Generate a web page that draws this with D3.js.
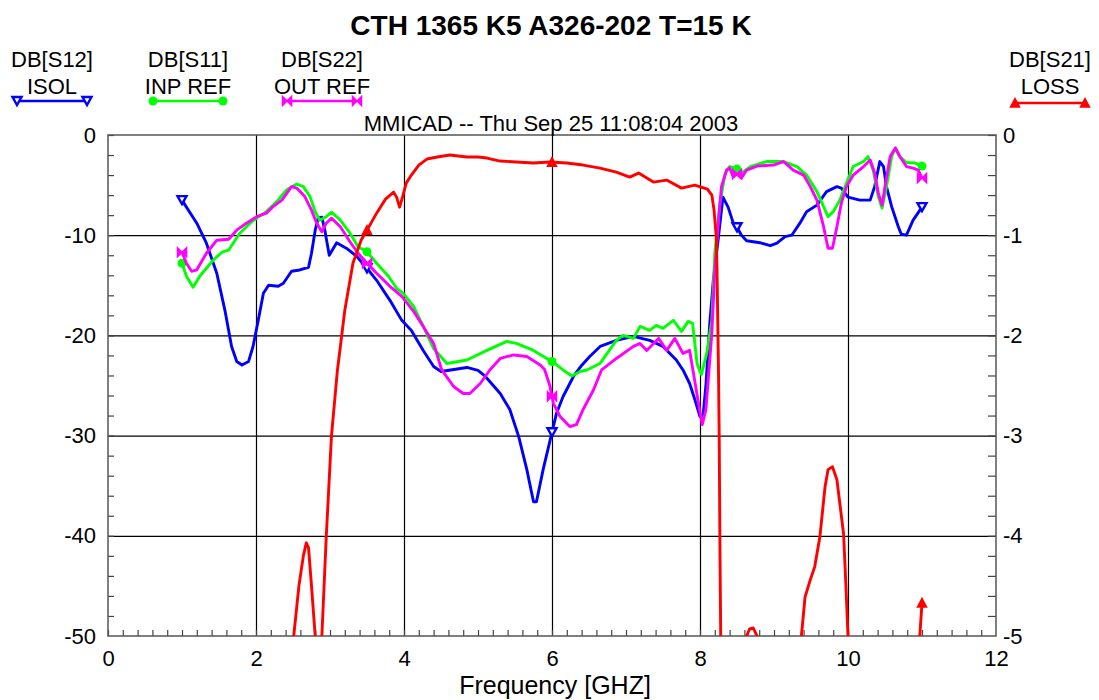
<!DOCTYPE html>
<html><head><meta charset="utf-8">
<script src="https://cdn.jsdelivr.net/npm/d3@7/dist/d3.min.js"></script>
<style>
html,body{margin:0;padding:0;background:#fff;}
svg text{font-family:"Liberation Sans",Arial,sans-serif;}
</style></head>
<body><svg id="c" width="1099" height="700"></svg>
<script>
// ---- DATA ----
const titleText = "CTH 1365 K5 A326-202 T=15 K";
const subtitleText = "MMICAD -- Thu Sep 25 11:08:04 2003";
const xLabel = "Frequency [GHZ]";
const xTicks = [0, 2, 4, 6, 8, 10, 12];
const yLeftTicks = [0, -10, -20, -30, -40, -50];
const yRightTicks = [0, -1, -2, -3, -4, -5];
const markerFreqs = [1, 3.5, 6, 8.5, 11];

// DB[S12] ISOL (left axis, dB)
const s12 = [[1.0,-6.5],[1.06,-7.2],[1.20,-8.8],[1.33,-10.8],[1.47,-13.8],[1.58,-17.5],[1.67,-21.1],[1.74,-22.6],[1.81,-22.95],[1.90,-22.6],[1.96,-21.1],[2.03,-18.5],[2.10,-15.8],[2.17,-15.0],[2.30,-15.1],[2.37,-14.8],[2.48,-13.6],[2.57,-13.5],[2.71,-13.2],[2.75,-11.8],[2.80,-9.5],[2.84,-8.3],[2.89,-8.2],[2.93,-9.5],[2.99,-12.0],[3.09,-10.75],[3.22,-11.3],[3.36,-12.1],[3.50,-13.3],[3.63,-14.5],[3.81,-16.5],[3.97,-18.5],[4.10,-19.5],[4.26,-21.5],[4.40,-23.1],[4.50,-23.6],[4.85,-23.2],[5.0,-23.5],[5.10,-24.1],[5.30,-25.8],[5.43,-27.4],[5.55,-30.1],[5.66,-33.4],[5.75,-36.6],[5.79,-36.6],[5.88,-33.4],[5.97,-30.6],[6.06,-27.8],[6.15,-26.1],[6.29,-24.1],[6.40,-23.0],[6.51,-22.1],[6.65,-21.1],[6.87,-20.5],[7.10,-20.1],[7.32,-20.5],[7.50,-21.1],[7.68,-22.45],[7.77,-23.45],[7.86,-24.8],[7.93,-26.4],[8.0,-28.1],[8.04,-28.1],[8.08,-25],[8.13,-19],[8.18,-14.5],[8.25,-10.15],[8.31,-6.2],[8.38,-7.2],[8.45,-8.8],[8.50,-9.2],[8.56,-10.0],[8.63,-10.55],[8.81,-10.75],[8.95,-11.05],[9.04,-10.8],[9.15,-10.15],[9.24,-10.0],[9.35,-8.8],[9.44,-7.65],[9.58,-7.0],[9.71,-5.65],[9.85,-5.15],[9.91,-5.3],[10.0,-6.2],[10.16,-6.5],[10.30,-6.5],[10.36,-5.15],[10.43,-2.65],[10.48,-3.15],[10.52,-5.15],[10.59,-7.15],[10.68,-9.15],[10.72,-9.9],[10.79,-10.0],[10.88,-8.5],[11.0,-7.2]];

// DB[S11] INP REF (left axis, dB)
const s11 = [[1.0,-12.8],[1.06,-14.1],[1.15,-15.2],[1.24,-14.1],[1.42,-12.5],[1.54,-11.7],[1.63,-11.5],[1.78,-9.8],[1.92,-8.8],[2.01,-8.3],[2.14,-7.65],[2.28,-6.65],[2.41,-5.5],[2.55,-4.9],[2.64,-5.15],[2.73,-6.15],[2.80,-7.65],[2.86,-8.5],[2.95,-8.15],[3.02,-7.7],[3.14,-8.5],[3.27,-9.8],[3.38,-11.15],[3.50,-11.65],[3.63,-12.8],[3.79,-14.1],[3.90,-15.3],[3.99,-15.8],[4.13,-17.1],[4.26,-19.1],[4.40,-21.3],[4.58,-22.8],[4.85,-22.45],[5.12,-21.5],[5.39,-20.6],[5.52,-20.8],[5.75,-21.5],[5.93,-22.3],[6.0,-22.6],[6.15,-23.45],[6.27,-24.05],[6.38,-23.6],[6.47,-23.45],[6.65,-22.8],[6.87,-20.5],[6.96,-20.0],[7.10,-20.3],[7.19,-19.1],[7.32,-19.5],[7.41,-19.0],[7.50,-19.3],[7.64,-18.5],[7.75,-19.6],[7.84,-18.6],[7.90,-18.8],[7.96,-22.8],[8.0,-23.6],[8.02,-23.9],[8.09,-21.8],[8.16,-18.5],[8.20,-11.8],[8.27,-6.8],[8.34,-3.8],[8.40,-3.15],[8.47,-3.3],[8.50,-3.4],[8.56,-3.8],[8.68,-3.15],[8.90,-2.65],[9.13,-2.65],[9.31,-3.15],[9.44,-4.0],[9.58,-5.65],[9.67,-7.15],[9.73,-8.15],[9.80,-7.65],[9.89,-6.5],[9.98,-4.8],[10.07,-3.15],[10.21,-2.65],[10.27,-2.15],[10.34,-3.5],[10.41,-6.15],[10.46,-7.3],[10.52,-5.15],[10.59,-2.15],[10.64,-1.3],[10.70,-2.15],[10.79,-2.75],[10.91,-2.8],[11.0,-3.1]];

// DB[S22] OUT REF (left axis, dB)
const s22 = [[1.0,-11.7],[1.06,-12.8],[1.13,-13.6],[1.20,-13.45],[1.33,-11.8],[1.47,-10.5],[1.63,-10.4],[1.74,-9.5],[1.87,-8.8],[2.01,-8.15],[2.14,-7.8],[2.23,-7.15],[2.35,-6.5],[2.48,-5.15],[2.55,-5.3],[2.66,-6.15],[2.75,-7.5],[2.82,-8.8],[2.89,-9.65],[2.95,-8.8],[3.02,-8.3],[3.14,-9.15],[3.27,-10.65],[3.38,-11.8],[3.50,-12.8],[3.63,-13.8],[3.81,-15.1],[3.97,-16.1],[4.13,-17.6],[4.26,-19.1],[4.40,-20.8],[4.51,-23.45],[4.67,-25.1],[4.80,-25.8],[4.89,-25.8],[5.03,-24.8],[5.16,-23.45],[5.30,-22.3],[5.48,-21.95],[5.66,-22.1],[5.84,-22.95],[5.90,-23.4],[5.97,-25.0],[6.02,-26.8],[6.11,-28.1],[6.24,-29.1],[6.33,-28.9],[6.42,-27.4],[6.56,-25.45],[6.67,-23.45],[6.87,-22.3],[7.10,-21.1],[7.19,-20.8],[7.28,-21.5],[7.44,-20.3],[7.55,-21.5],[7.66,-20.3],[7.77,-21.8],[7.86,-21.5],[7.98,-26.8],[8.03,-28.9],[8.08,-27.4],[8.16,-19.8],[8.20,-13.5],[8.25,-8.5],[8.29,-5.15],[8.36,-3.5],[8.40,-3.3],[8.45,-4.15],[8.50,-3.9],[8.56,-4.3],[8.63,-3.5],[8.77,-3.1],[8.99,-3.0],[9.13,-2.65],[9.26,-3.5],[9.40,-4.0],[9.49,-5.15],[9.58,-6.5],[9.67,-9.15],[9.73,-11.3],[9.79,-11.3],[9.85,-9.15],[9.91,-6.8],[9.98,-5.15],[10.07,-4.0],[10.21,-3.15],[10.30,-2.5],[10.36,-3.8],[10.41,-5.8],[10.46,-7.0],[10.50,-5.15],[10.57,-2.15],[10.64,-1.3],[10.70,-2.15],[10.79,-3.15],[10.88,-3.3],[10.95,-3.5],[11.0,-4.3]];

// DB[S21] LOSS (right axis, dB; values below -5 fall off the chart)
const s21 = [[1.0,-6],[2.45,-6],[2.51,-5.0],[2.58,-4.5],[2.64,-4.2],[2.68,-4.07],[2.71,-4.12],[2.75,-4.5],[2.80,-5.0],[2.84,-5.8],[2.87,-5.6],[2.89,-5.0],[2.95,-4.0],[3.02,-3.0],[3.10,-2.35],[3.20,-1.75],[3.31,-1.28],[3.42,-1.05],[3.50,-0.95],[3.63,-0.78],[3.75,-0.64],[3.86,-0.57],[3.90,-0.62],[3.94,-0.72],[3.98,-0.62],[4.03,-0.48],[4.10,-0.40],[4.20,-0.30],[4.31,-0.24],[4.45,-0.22],[4.62,-0.20],[4.85,-0.22],[5.0,-0.22],[5.12,-0.23],[5.30,-0.26],[5.52,-0.27],[5.75,-0.28],[5.97,-0.27],[6.20,-0.28],[6.42,-0.30],[6.65,-0.33],[6.87,-0.37],[7.05,-0.42],[7.17,-0.38],[7.37,-0.47],[7.55,-0.45],[7.75,-0.53],[7.93,-0.50],[8.10,-0.54],[8.16,-0.60],[8.19,-0.75],[8.22,-1.02],[8.23,-1.35],[8.25,-2.35],[8.26,-3.06],[8.27,-4.17],[8.28,-5.0],[8.30,-6],[8.60,-6],[8.63,-5.0],[8.67,-4.93],[8.72,-4.92],[8.77,-5.0],[8.80,-6],[9.33,-6],[9.37,-5.0],[9.42,-4.61],[9.49,-4.44],[9.55,-4.31],[9.62,-4.01],[9.69,-3.51],[9.73,-3.34],[9.79,-3.31],[9.85,-3.44],[9.89,-3.68],[9.94,-3.98],[9.97,-4.47],[10.0,-5.0],[10.03,-6],[10.95,-6],[10.97,-5.0],[11.0,-4.67]];

// ---- DRAW ----
const svg = d3.select("#c");
const L = 108, R = 996, T = 135, B = 636;
const x = d3.scaleLinear().domain([0, 12]).range([L, R]);
const yL = d3.scaleLinear().domain([-50, 0]).range([B, T]);
const yR = d3.scaleLinear().domain([-5, 0]).range([B, T]);
const FONT = 22;
const fmt = d => String(d);

svg.append("defs").append("clipPath").attr("id", "plotclip")
  .append("rect").attr("x", L).attr("y", T).attr("width", R - L).attr("height", B - T);

// gridlines
const grid = svg.append("g");
grid.append("g").attr("transform", `translate(0,${B})`)
  .call(d3.axisBottom(x).tickValues([2,4,6,8,10]).tickSize(-(B - T)).tickFormat(""))
  .call(g => g.select(".domain").remove())
  .call(g => g.selectAll("line").attr("stroke", "#000").attr("stroke-width", 1.2));
grid.append("g").attr("transform", `translate(${L},0)`)
  .call(d3.axisLeft(yL).tickValues([-10,-20,-30,-40]).tickSize(-(R - L)).tickFormat(""))
  .call(g => g.select(".domain").remove())
  .call(g => g.selectAll("line").attr("stroke", "#000").attr("stroke-width", 1.2));

// minor ticks (inward)
svg.append("g").attr("transform", `translate(0,${B})`)
  .call(d3.axisBottom(x).tickValues(d3.range(0, 60).map(i => i * 0.2)).tickSize(-6).tickFormat(""))
  .call(g => g.select(".domain").remove())
  .call(g => g.selectAll("line").attr("stroke", "#444").attr("stroke-width", 1.2));
svg.append("g").attr("transform", `translate(${L},0)`)
  .call(d3.axisLeft(yL).tickValues(d3.range(0, 25).map(i => -i * 2)).tickSize(-6).tickFormat(""))
  .call(g => g.select(".domain").remove())
  .call(g => g.selectAll("line").attr("stroke", "#444").attr("stroke-width", 1.2));
svg.append("g").attr("transform", `translate(${R},0)`)
  .call(d3.axisRight(yR).tickValues(d3.range(0, 25).map(i => -i * 0.2)).tickSize(-8).tickFormat(""))
  .call(g => g.select(".domain").remove())
  .call(g => g.selectAll("line").attr("stroke", "#444").attr("stroke-width", 1.2));

// tick labels
svg.append("g").attr("transform", `translate(0,${B})`)
  .call(d3.axisBottom(x).tickValues(xTicks).tickSize(0).tickPadding(14).tickFormat(fmt))
  .call(g => g.select(".domain").remove())
  .call(g => g.selectAll("text").attr("font-size", FONT).attr("fill", "#000").attr("font-family", "Liberation Sans, Arial"));
svg.append("g").attr("transform", `translate(${L},0)`)
  .call(d3.axisLeft(yL).tickValues(yLeftTicks).tickSize(0).tickPadding(12).tickFormat(fmt))
  .call(g => g.select(".domain").remove())
  .call(g => g.selectAll("text").attr("font-size", FONT).attr("fill", "#000").attr("font-family", "Liberation Sans, Arial"));
svg.append("g").attr("transform", `translate(${R},0)`)
  .call(d3.axisRight(yR).tickValues(yRightTicks).tickSize(0).tickPadding(7).tickFormat(fmt))
  .call(g => g.select(".domain").remove())
  .call(g => g.selectAll("text").attr("font-size", FONT).attr("fill", "#000").attr("font-family", "Liberation Sans, Arial"));

// frame
svg.append("rect").attr("x", L).attr("y", T).attr("width", R - L).attr("height", B - T)
  .attr("fill", "none").attr("stroke", "#555").attr("stroke-width", 1.5);

// markers
function markerPath(kind) {
  if (kind === "tdown") return "M-4.5,-4L4.5,-4L0,4Z";
  if (kind === "tup") return "M-4.5,4L4.5,4L0,-4.5Z";
  if (kind === "bow") return "M-4.5,-4.5L0,0L-4.5,4.5ZM4.5,-4.5L0,0L4.5,4.5Z";
  return null;
}
function drawMarker(g, kind, color, cx, cy) {
  if (kind === "circle") {
    g.append("circle").attr("cx", cx).attr("cy", cy).attr("r", 4.5).attr("fill", color);
  } else if (kind === "tdown") {
    g.append("path").attr("d", markerPath(kind)).attr("transform", `translate(${cx},${cy})`)
      .attr("fill", "#fff").attr("stroke", color).attr("stroke-width", 2.4);
  } else {
    g.append("path").attr("d", markerPath(kind)).attr("transform", `translate(${cx},${cy})`)
      .attr("fill", color).attr("stroke", color).attr("stroke-width", 1.5);
  }
}

const series = [
  {data: s12, color: "#0000ff", y: yL, mk: "tdown", l1: "DB[S12]", l2: "ISOL", lx: 52, ly: 101},
  {data: s11, color: "#00ff00", y: yL, mk: "circle", l1: "DB[S11]", l2: "INP REF", lx: 188, ly: 101},
  {data: s22, color: "#ff00ff", y: yL, mk: "bow", l1: "DB[S22]", l2: "OUT REF", lx: 322, ly: 101},
  {data: s21, color: "#ff0000", y: yR, mk: "tup", l1: "DB[S21]", l2: "LOSS", lx: 1050, ly: 103}
];

const plot = svg.append("g").attr("clip-path", "url(#plotclip)");
series.forEach(s => {
  const line = d3.line().x(d => x(d[0])).y(d => s.y(d[1])).curve(d3.curveLinear);
  plot.append("path").datum(s.data).attr("d", line)
    .attr("fill", "none").attr("stroke", s.color).attr("stroke-width", 2.9).attr("stroke-linejoin", "round");
  const interp = f => {
    const d = s.data;
    for (let i = 1; i < d.length; i++) {
      if (d[i][0] >= f) {
        const t = (f - d[i-1][0]) / (d[i][0] - d[i-1][0]);
        return d[i-1][1] + t * (d[i][1] - d[i-1][1]);
      }
    }
    return d[d.length-1][1];
  };
  markerFreqs.forEach(f => {
    const v = interp(f);
    if (v >= s.y.domain()[0]) drawMarker(plot, s.mk, s.color, x(f), s.y(v));
  });
});

// legend
series.forEach(s => {
  const g = svg.append("g");
  g.append("text").attr("x", s.lx).attr("y", 67).attr("text-anchor", "middle")
    .attr("font-size", FONT).text(s.l1);
  g.append("text").attr("x", s.lx).attr("y", 94).attr("text-anchor", "middle")
    .attr("font-size", FONT).text(s.l2);
  g.append("line").attr("x1", s.lx - 35).attr("x2", s.lx + 35).attr("y1", s.ly).attr("y2", s.ly)
    .attr("stroke", s.color).attr("stroke-width", 2.4);
  drawMarker(g, s.mk, s.color, s.lx - 35, s.ly);
  drawMarker(g, s.mk, s.color, s.lx + 35, s.ly);
});

// titles
svg.append("text").attr("x", 551).attr("y", 35).attr("text-anchor", "middle")
  .attr("font-size", 28).attr("font-weight", "bold").text(titleText);
svg.append("text").attr("x", 551).attr("y", 131).attr("text-anchor", "middle")
  .attr("font-size", FONT).text(subtitleText);
svg.append("text").attr("x", 555).attr("y", 694).attr("text-anchor", "middle")
  .attr("font-size", 25).text(xLabel);
</script></body></html>
